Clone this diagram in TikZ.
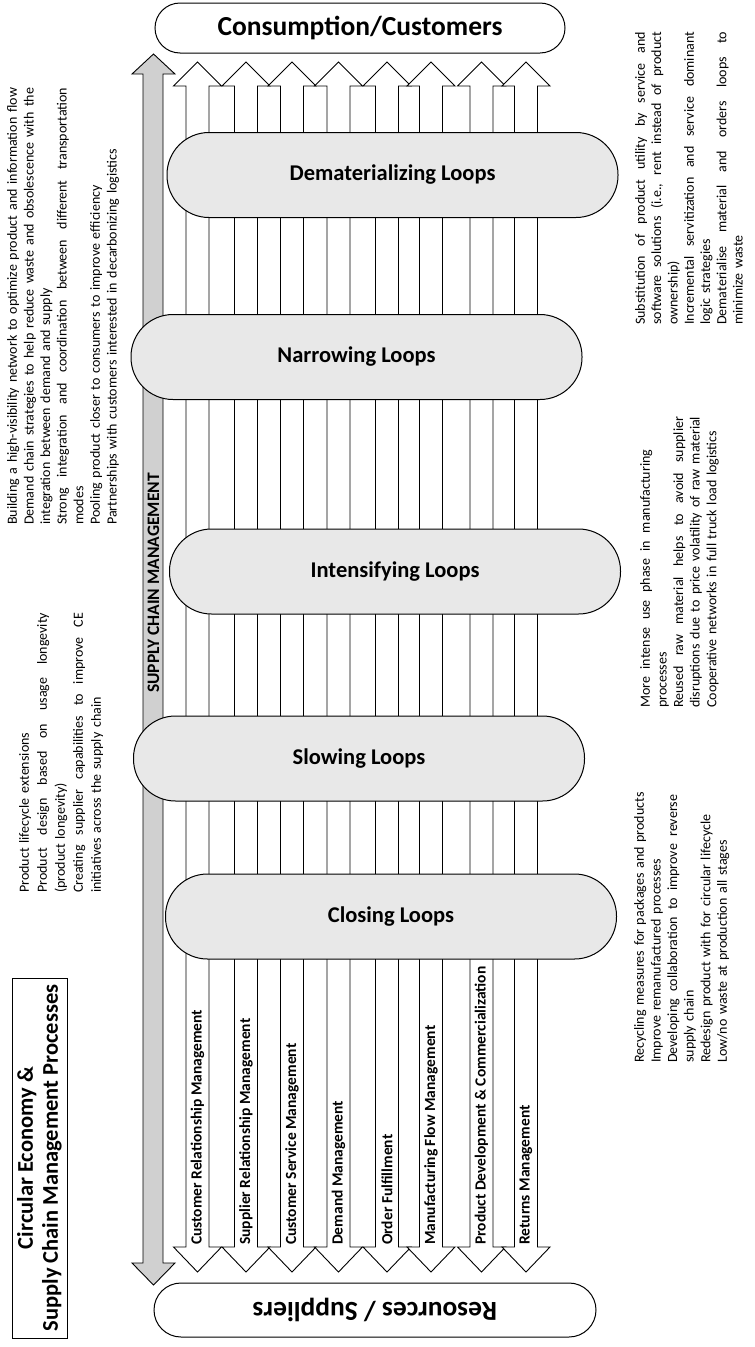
\documentclass[tikz,border=0pt]{standalone}
\usepackage{fontspec}
\setmainfont{Carlito}
\definecolor{loopgray}{RGB}{232,232,232}
\definecolor{scmgray}{RGB}{208,208,208}
% \notew holds the width of the current text block
\newcommand\notew{300pt}
% a line spread over the whole width of its text block
\newcommand\jline[1]{\leavevmode\hbox to \notew{\spaceskip=\fontdimen2\font plus 1fil\relax #1}}
% a line spread over a given width
\newcommand\wline[2]{\leavevmode\hbox to #1{\spaceskip=\fontdimen2\font plus 1fil\relax #2}}
% a line kept whole at its natural width
\newcommand\nline[1]{\mbox{#1}}
\begin{document}
\begin{tikzpicture}[x=1pt,y=-1pt,
  loopbox/.style={draw, line width=1pt, fill=loopgray, rounded corners=42pt,
    minimum width=451pt, minimum height=85pt, inner sep=0pt,
    font=\fontsize{22.5}{27}\selectfont\bfseries},
  endbox/.style={draw, line width=1pt, fill=white, inner sep=0pt,
    font=\fontsize{27.5}{32}\selectfont\bfseries},
  flow/.style={draw, line width=0.9pt, fill=white},
  scmarrow/.style={draw, line width=0.9pt, fill=scmgray},
  procl/.style={rotate=90, anchor=west, inner sep=0pt,
    font=\fontsize{15.5}{18}\selectfont\bfseries},
  note/.style={rotate=90, anchor=north west, inner sep=0pt, align=left,
    font=\fontsize{14}{16.6}\selectfont},
]
\useasboundingbox (0,0) rectangle (755,1347);

% supply chain management backbone
\draw[scmarrow] (143,74) -- (132,74) -- (153.5,54) -- (175,74) -- (163,74)
  -- (163,1263) -- (175,1263) -- (153.5,1285) -- (132,1263) -- (143,1263) -- cycle;
\node[rotate=90, inner sep=0pt, font=\fontsize{17.5}{20}\selectfont\bfseries]
  (scm) at (153.5,583) {SUPPLY CHAIN MANAGEMENT};

% the eight two-way process flows
\foreach \c/\lbl [count=\i] in {
  197.5/Customer Relationship Management,
  246/Supplier Relationship Management,
  292/Customer Service Management,
  338.5/Demand Management,
  387/Order Fulfillment,
  431/Manufacturing Flow Management,
  481.5/Product Development \& Commercialization,
  526/Returns Management} {
  \draw[flow] (\c-11.5,86) -- (\c-24,86) -- (\c,62) -- (\c+24,86) -- (\c+11.5,86)
    -- (\c+11.5,1247) -- (\c+24,1247) -- (\c,1272) -- (\c-24,1247) -- (\c-11.5,1247) -- cycle;
  \node[procl] (p\i) at (\c,1245) {\lbl};
}

% circular economy loops
\node[loopbox] (demat)  at (392.5,175)   {Dematerializing Loops};
\node[loopbox] (narrow) at (356.5,357)   {Narrowing Loops};
\node[loopbox] (intens) at (395,571.5)   {Intensifying Loops};
\node[loopbox] (slow)   at (359,758.5)   {Slowing Loops};
\node[loopbox] (close)  at (391,916.5)   {Closing Loops};

% ends of the chain
\node[endbox, minimum width=410pt, minimum height=50pt, rounded corners=25pt]
  (cons) at (360,28) {Consumption/Customers};
\node[endbox, rotate=180, minimum width=442pt, minimum height=54pt, rounded corners=27pt]
  (res) at (375,1310) {Resources / Suppliers};

% title
\node[draw, line width=1pt, rotate=90, minimum width=360pt, minimum height=55pt,
  align=center, inner sep=0pt, font=\fontsize{22.5}{25}\selectfont\bfseries]
  (title) at (39.5,1158) {Circular Economy \&\\Supply Chain Management Processes};

% practices beside the loops
\node[note, text width=437pt] (narrowtxt) at (7,525) {%
  \renewcommand\notew{437pt}%
  \jline{Building a high-visibility network to optimize product and information flow}\\
  \jline{Demand chain strategies to help reduce waste and obsolescence with the}\\
  \nline{integration between demand and supply}\\
  \jline{Strong integration and coordination between different transportation}\\
  \nline{modes}\\
  \nline{Pooling product closer to consumers to improve efficiency}\\
  \nline{Partnerships with customers interested in decarbonizing logistics}};

\node[note, text width=280pt, font=\fontsize{14}{18}\selectfont] (slowtxt) at (19,893) {%
  \renewcommand\notew{280pt}%
  \nline{Product lifecycle extensions}\\
  \jline{Product design based on usage longevity}\\
  \nline{(product longevity)}\\
  \jline{Creating supplier capabilities to improve CE}\\
  \nline{initiatives across the supply chain}};

\node[note, text width=293pt, font=\fontsize{14}{16.3}\selectfont] (demattxt) at (635,325) {%
  \renewcommand\notew{293pt}%
  \jline{Substitution of product utility by service and}\\
  \jline{software solutions (i.e., rent instead of product}\\
  \nline{ownership)}\\
  \jline{Incremental servitization and service dominant}\\
  \nline{logic strategies}\\
  \jline{Dematerialise material and orders loops to}\\
  \nline{minimize waste}};

\node[note, text width=291pt] (intenstxt) at (640,708) {%
  \renewcommand\notew{291pt}%
  \wline{258pt}{More intense use phase in manufacturing}\\
  \nline{processes}\\
  \jline{Reused raw material helps to avoid supplier}\\
  \jline{disruptions due to price volatility of raw material}\\
  \nline{Cooperative networks in full truck load logistics}};

\node[note, text width=268pt] (closetxt) at (634,1063) {%
  \renewcommand\notew{268pt}%
  \nline{Recycling measures for packages and products}\\
  \nline{Improve remanufactured processes}\\
  \jline{Developing collaboration to improve reverse}\\
  \nline{supply chain}\\
  \nline{Redesign product with for circular lifecycle}\\
  \nline{Low/no waste at production all stages}};
\end{tikzpicture}
\end{document}
